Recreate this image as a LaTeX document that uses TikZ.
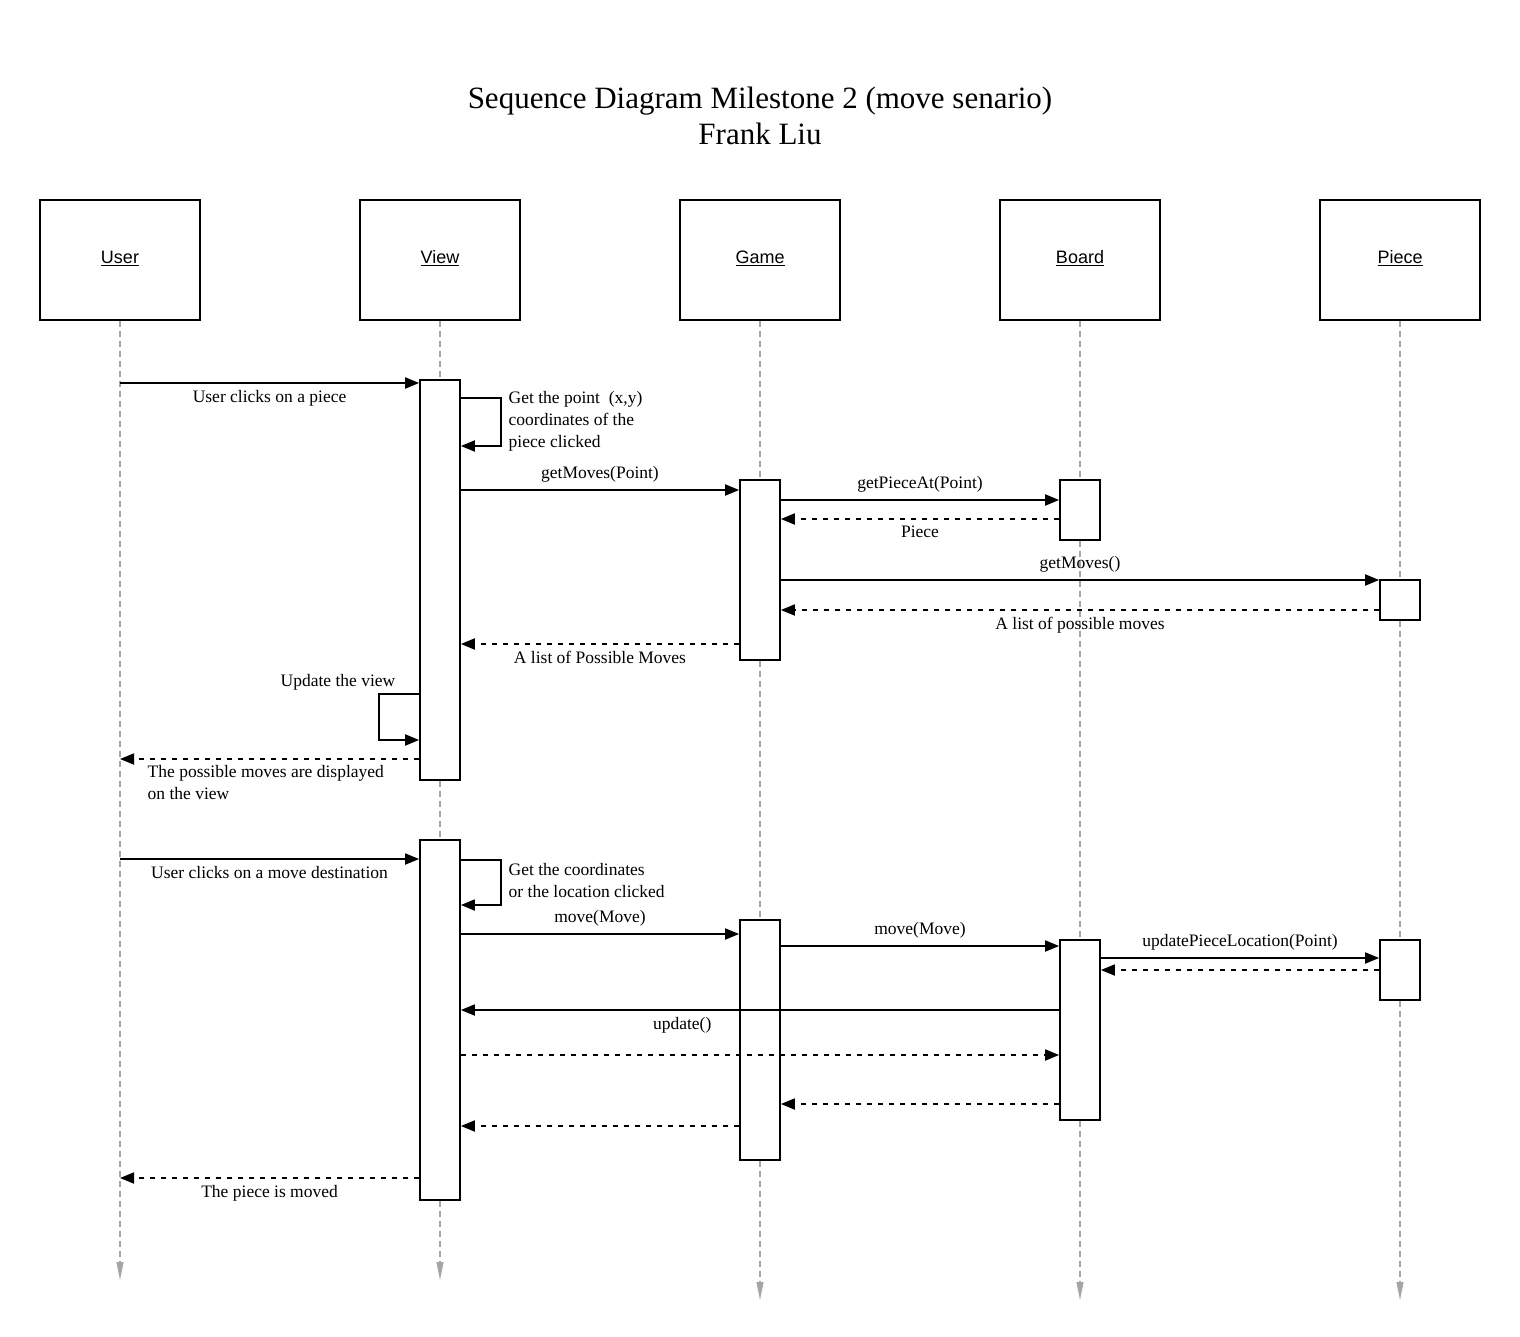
\documentclass[tikz,border=0pt]{standalone}
\usepackage{fontspec}
\setmainfont{Liberation Serif}
\setsansfont{Liberation Sans}
\usetikzlibrary{arrows.meta,positioning,calc}
\tikzset{
  obj/.style={draw, line width=1.7pt, minimum width=160pt, minimum height=120pt, inner sep=0pt, text height=13pt, text depth=6pt, font=\sffamily\fontsize{18}{22}\selectfont},
  act/.style={draw, fill=white, line width=1.7pt, minimum width=40pt, inner sep=0pt},
  life/.style={-{Triangle[length=18pt,width=7pt]}, gray!70, line width=1.2pt, dash pattern=on 6pt off 4pt},
  msg/.style={-{Triangle[length=14pt,width=11pt]}, line width=1.8pt},
  ret/.style={msg, dash pattern=on 5pt off 6pt},
  lbl/.style={font=\fontsize{17.5}{22}\selectfont, inner sep=6.5pt},
}

\begin{document}
\begin{tikzpicture}[x=1pt, y=-1pt]
\fill[white] (0,0) rectangle (1520,1337);
\useasboundingbox (0,0) rectangle (1520,1337);
\node[font=\fontsize{31}{36}\selectfont, align=center] (title) at (760,116) {Sequence Diagram Milestone 2 (move senario)\\Frank Liu};
% objects
\node[obj] (user) at (120,260) {\underline{User}};
\node[obj] (view) at (440,260) {\underline{View}};
\node[obj] (game) at (760,260) {\underline{Game}};
\node[obj] (board) at (1080,260) {\underline{Board}};
\node[obj] (piece) at (1400,260) {\underline{Piece}};
% lifelines
\draw[life] (user.south) -- (user.south |- 0,1280);
\draw[life] (view.south) -- (view.south |- 0,1280);
\draw[life] (game.south) -- (game.south |- 0,1300);
\draw[life] (board.south) -- (board.south |- 0,1300);
\draw[life] (piece.south) -- (piece.south |- 0,1300);
% activations
\node[act, minimum height=400pt] (view1) at (440,580) {};
\node[act, minimum height=180pt] (game1) at (760,570) {};
\node[act, minimum height=60pt] (board1) at (1080,510) {};
\node[act, minimum height=40pt] (piece1) at (1400,600) {};
\node[act, minimum height=360pt] (view2) at (440,1020) {};
\node[act, minimum height=240pt] (game2) at (760,1040) {};
\node[act, minimum height=180pt] (board2) at (1080,1030) {};
\node[act, minimum height=60pt] (piece2) at (1400,970) {};
% select a piece
\draw[msg] (user |- 0,383) -- (view1.west |- 0,383) node[lbl, midway, below] (m1) {User clicks on a piece};
\draw[msg] (view1.east |- 0,398) -- ++(40,0) |- (view1.east |- 0,446);
\node[lbl, anchor=west, align=left] (m2) at (502,421) {Get the point~~(x,y)\\coordinates of the\\piece clicked};
\draw[msg] (view1.east |- 0,490) -- (game1.west |- 0,490) node[lbl, midway, above] (m3) {getMoves(Point)};
\draw[msg] (game1.east |- 0,500) -- (board1.west |- 0,500) node[lbl, midway, above] (m4) {getPieceAt(Point)};
\draw[ret] (board1.west |- 0,519) -- (game1.east |- 0,519) node[lbl, midway, below] (m5) {Piece};
\draw[msg] (game1.east |- 0,580) -- (piece1.west |- 0,580) node[lbl, midway, above] (m6) {getMoves()};
\draw[ret] (piece1.west |- 0,610) -- (game1.east |- 0,610) node[lbl, midway, below] (m7) {A list of possible moves};
\draw[ret] (game1.west |- 0,644) -- (view1.east |- 0,644) node[lbl, midway, below] (m8) {A list of Possible Moves};
\draw[msg] (view1.west |- 0,694) -- ++(-40,0) |- (view1.west |- 0,740);
\node[lbl] (m9) at (338,682) {Update the view};
\draw[ret] (view1.west |- 0,759) -- (user |- 0,759);
\node[lbl, anchor=west, align=left] (m10) at (141,783) {The possible moves are displayed\\on the view};
% move the piece
\draw[msg] (user |- 0,859) -- (view2.west |- 0,859) node[lbl, midway, below] (m11) {User clicks on a move destination};
\draw[msg] (view2.east |- 0,860) -- ++(40,0) |- (view2.east |- 0,905);
\node[lbl, anchor=west, align=left] (m12) at (502,881) {Get the coordinates\\or the location clicked};
\draw[msg] (view2.east |- 0,934) -- (game2.west |- 0,934) node[lbl, midway, above] (m13) {move(Move)};
\draw[msg] (game2.east |- 0,946) -- (board2.west |- 0,946) node[lbl, midway, above] (m14) {move(Move)};
\draw[msg] (board2.east |- 0,958) -- (piece2.west |- 0,958) node[lbl, midway, above] (m15) {updatePieceLocation(Point)};
\draw[ret] (piece2.west |- 0,970) -- (board2.east |- 0,970);
\draw[msg] (board2.west |- 0,1010) -- (view2.east |- 0,1010) node[lbl, pos=0.63, below] (m16) {update()};
\draw[ret] (view2.east |- 0,1055) -- (board2.west |- 0,1055);
\draw[ret] (board2.west |- 0,1104) -- (game2.east |- 0,1104);
\draw[ret] (game2.west |- 0,1126) -- (view2.east |- 0,1126);
\draw[ret] (view2.west |- 0,1178) -- (user |- 0,1178) node[lbl, midway, below] (m17) {The piece is moved};
\end{tikzpicture}
\end{document}
